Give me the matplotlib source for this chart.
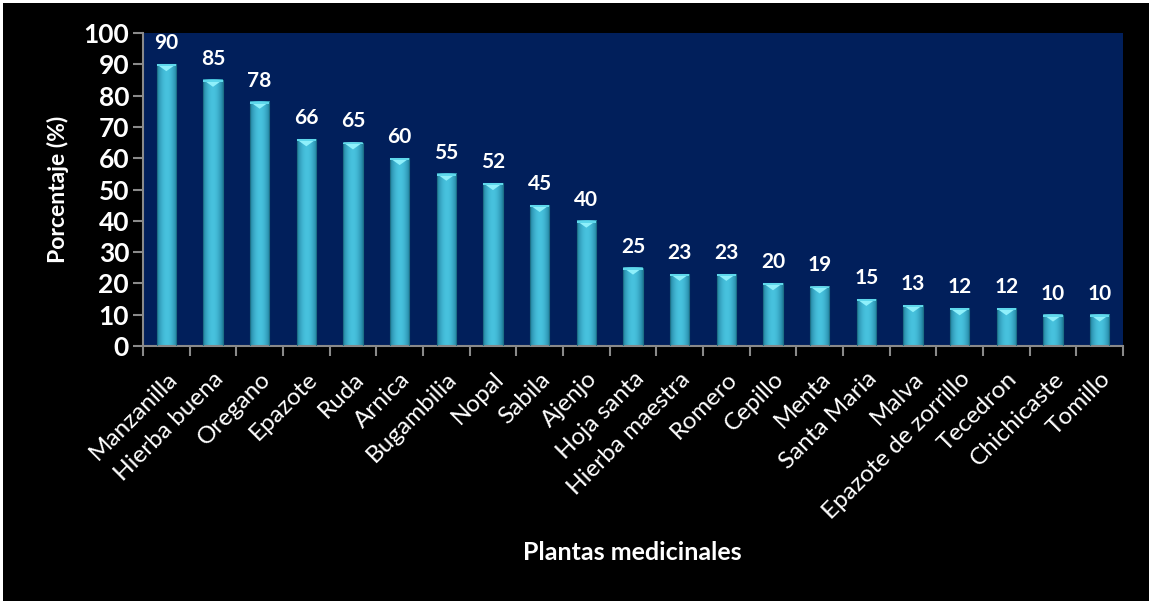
import numpy as np
import matplotlib.pyplot as plt
from matplotlib.patches import Rectangle, Polygon

plantas = ["Manzanilla", "Hierba buena", "Oregano", "Epazote", "Ruda", "Arnica",
           "Bugambilia", "Nopal", "Sabila", "Ajenjo", "Hoja santa", "Hierba maestra",
           "Romero", "Cepillo", "Menta", "Santa Maria", "Malva", "Epazote de zorrillo",
           "Tecedron", "Chichicaste", "Tomillo"]
porcentaje = [90, 85, 78, 66, 65, 60, 55, 52, 45, 40, 25, 23, 23, 20, 19, 15, 13, 12, 12, 10, 10]

plt.rcParams["font.family"] = ["Lato", "DejaVu Sans"]

fig = plt.figure(figsize=(11.49, 6.01), dpi=100, facecolor="black")
# thin white margin on top/left
fig.patches.append(Rectangle((0, 1 - 3 / 601), 1, 3 / 601, transform=fig.transFigure,
                             facecolor="white", edgecolor="none", zorder=-1))
fig.patches.append(Rectangle((0, 0), 3 / 1149, 1, transform=fig.transFigure,
                             facecolor="white", edgecolor="none", zorder=-1))
ax = fig.add_axes([143 / 1149, 1 - 346 / 601, 980 / 1149, 313 / 601])
ax.set_facecolor("#011f5b")

x = np.arange(len(plantas))
w = 0.41
# horizontal gradient for the cylinder look
t = np.linspace(-1, 1, 64)
shade = 1 - 0.45 * t ** 2
edge = np.array([0.13, 0.50, 0.62])
mid = np.array([0.28, 0.76, 0.87])
grad = edge[None, :] + (mid - edge)[None, :] * ((shade - shade.min()) / (shade.max() - shade.min()))[:, None]
grad = grad[None, :, :]

for xi, v in zip(x, porcentaje):
    ax.imshow(grad, extent=[xi - w / 2, xi + w / 2, 0, v], aspect="auto",
              interpolation="bilinear", zorder=2)
    ax.add_patch(Rectangle((xi - w / 2, 0), w, v, facecolor="none",
                           edgecolor="#1d6f86", lw=0.8, zorder=3))
    ax.add_patch(Polygon([(xi - w / 2, v), (xi + w / 2, v), (xi, v - 2.2)],
                         closed=True, facecolor="#8ff0fb", edgecolor="none", zorder=4))
    ax.add_patch(Polygon([(xi - w / 2, v), (xi + w / 2, v), (xi + w / 2, v - 0.6), (xi - w / 2, v - 0.6)],
                         closed=True, facecolor="#5fd8ec", edgecolor="none", zorder=4))
    ax.annotate(str(v), (xi, v), xytext=(0, 8), textcoords="offset points",
                ha="center", va="bottom", color="white", fontsize=15, fontweight="bold")

ax.set_xlim(-0.5, len(plantas) - 0.5)
ax.set_ylim(0, 100)
ax.set_yticks(range(0, 101, 10))
ax.set_xticks(x)
ax.set_xticklabels(plantas, rotation=45, ha="right", rotation_mode="anchor",
                   fontsize=17.5, color="white")
ax.set_xticks(np.arange(-0.5, len(plantas), 1), minor=True)
ax.tick_params(axis="x", which="major", length=0, pad=16)
ax.tick_params(axis="x", which="minor", length=7, width=1.5, color="#8a8a8a")
ax.tick_params(axis="y", length=7, width=1.5, color="#8a8a8a", labelcolor="white",
               labelsize=19, pad=3)
for lab in ax.get_yticklabels():
    lab.set_fontweight("bold")

for s in ["top", "right"]:
    ax.spines[s].set_visible(False)
for s in ["left", "bottom"]:
    ax.spines[s].set_color("#8a8a8a")
    ax.spines[s].set_linewidth(1.5)

ax.set_ylabel("Porcentaje (%)", color="white", fontsize=16.5, fontweight="bold", labelpad=10)
fig.text(632 / 1149, 1 - 553 / 601, "Plantas medicinales", color="white", fontsize=18,
         fontweight="bold", ha="center", va="center")

fig.savefig("out.png", dpi=100, facecolor=fig.get_facecolor())
